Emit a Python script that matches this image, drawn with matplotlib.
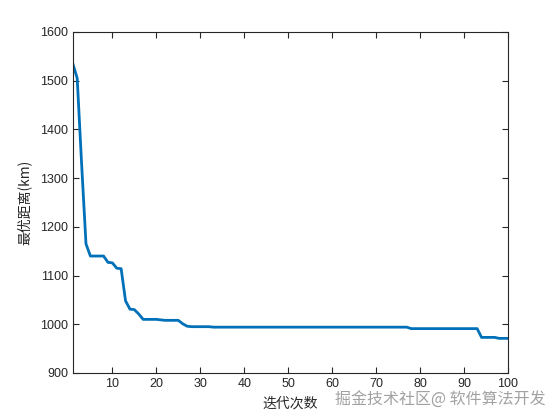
import matplotlib
matplotlib.use("Agg")
import matplotlib.pyplot as plt
import numpy as np

plt.rcParams['font.family'] = ['Liberation Sans', 'Noto Sans CJK SC', 'DejaVu Sans']

iterations = list(range(1, 101))
best_dist = ([1535, 1505, 1330, 1165, 1140, 1140, 1140, 1140, 1127, 1126,
              1115, 1114, 1048, 1031, 1030, 1021, 1010, 1010, 1010, 1010,
              1009, 1008, 1008, 1008, 1008, 1001, 996, 995, 995, 995,
              995, 995] + [994] * 45 + [991] * 16 + [973] * 4 + [971] * 3)

x_ticks = [10, 20, 30, 40, 50, 60, 70, 80, 90, 100]
y_ticks = [900, 1000, 1100, 1200, 1300, 1400, 1500, 1600]
x_label = "迭代次数"
y_label = "最优距离(km)"
watermark = "掘金技术社区@ 软件算法开发"

fig = plt.figure(figsize=(5.6, 4.2), dpi=100)
ax = fig.add_axes([0.130, 0.112, 0.777, 0.812])
ax.plot(iterations, best_dist, color='#0070B8', linewidth=2)
ax.set_xlim(1, 100)
ax.set_ylim(900, 1600)
ax.set_xticks(x_ticks)
ax.set_yticks(y_ticks)
dark = '#262626'
for s in ax.spines.values():
    s.set_color(dark)
    s.set_linewidth(0.8)
ax.tick_params(direction='in', length=4, width=0.8, colors=dark,
               labelsize=9, top=True, right=True, labeltop=False, labelright=False)
ax.set_xlabel(x_label, fontsize=10, family=['Noto Sans CJK SC'], color=dark, labelpad=5)
ax.set_ylabel(y_label, fontsize=10, family=['Noto Sans CJK SC', 'Liberation Sans'], color=dark, labelpad=6)
fig.text(0.975, 0.048, watermark, ha='right', va='center', fontsize=11.5,
         family=['Noto Sans CJK SC'], color='#8a8a8a', alpha=0.8)
fig.savefig("out.png", dpi=100)
